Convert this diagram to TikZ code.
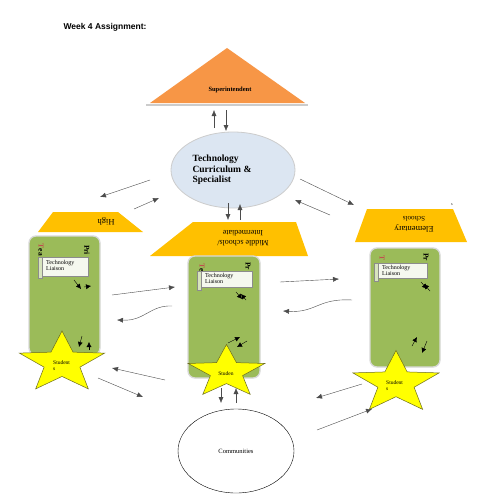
\documentclass[tikz,border=0pt]{standalone}
\usepackage{fontspec}
\setmainfont{Liberation Serif}
\newfontfamily\headfont{Liberation Sans}
\usetikzlibrary{shapes,arrows.meta}
\definecolor{supor}{HTML}{F79646}
\definecolor{lvlgold}{HTML}{FFC000}
\definecolor{boxgreen}{HTML}{9BBB59}
\definecolor{ovalblue}{HTML}{DCE6F2}
\definecolor{starfill}{HTML}{FFFF00}
\definecolor{starline}{HTML}{6B6B1E}
\definecolor{teared}{HTML}{C0504D}

\tikzset{
  flow/.style={-{Latex[length=6pt,width=5pt]}, thin, black!70},
  tiny/.style={-{Latex[length=5pt,width=5pt]}, thin},
  level/.style={fill=lvlgold, draw=none},
  school/.style={fill=boxgreen, draw=black!15, line width=1.3pt, rounded corners=7pt},
  liaison/.style={fill=white!90!boxgreen, draw=black!45, line width=0.3pt},
  rollend/.style={fill=white!60!boxgreen, draw=black!45, line width=0.3pt},
  student/.style={fill=starfill, draw=starline, line width=0.5pt},
  side/.style={font=\bfseries\fontsize{7.5}{8}\selectfont, rotate=-90, inner sep=0pt}
}

\newcommand{\studentstar}[4]{%
  \begin{scope}[shift={(#1,#2)}, xscale=#4]
    \draw[student] (-90:#3) -- (-54:{0.42*#3}) -- (-18:#3) -- (18:{0.42*#3}) -- (54:#3)
      -- (90:{0.42*#3}) -- (126:#3) -- (162:{0.42*#3}) -- (198:#3) -- (234:{0.42*#3}) -- cycle;
  \end{scope}}

\begin{document}
\begin{tikzpicture}[x=1pt, y=-1pt]
        \useasboundingbox[fill=white] (0,0) rectangle (495,495);
        \node[font=\headfont\bfseries\fontsize{8.5}{10}\selectfont] (title) at (105,27) {Week 4 Assignment:};

        \fill[supor] (227,48) -- (305,103) -- (150,103) -- cycle;
        \draw[black!20, line width=1.3pt] (146,105) -- (308,105);
        \node[font=\bfseries\fontsize{6.5}{7}\selectfont] (supt) at (230,90) {Superintendent};
        \draw[flow] (214,128) -- (214,110);
        \draw[flow] (226,110) -- (226,131);

        \node[ellipse, fill=ovalblue, draw=black!20, line width=0.8pt, minimum width=124, minimum height=76] (tcs) at (233,170) {};
        \node[align=left, font=\bfseries\fontsize{9.5}{10.5}\selectfont] (tcstext) at (222,170) {Technology\\Curriculum \&\\Specialist};
        \draw[flow] (228,203) -- (228,220);
        \draw[flow] (240,220) -- (240,204);

        \draw[flow] (150,180) -- (100,197);
        \draw[flow] (134,209) -- (159,198);
        \draw[flow] (300,179) -- (354,205);
        \draw[flow] (330,215) -- (295,200);

        \fill[level] (53,212) -- (118,212) -- (143,232) -- (38,232) -- cycle;
        \node[rotate=180, font=\fontsize{8.5}{9}\selectfont] (high) at (106,222) {High};
        \fill[level] (193,222) -- (296,222) -- (308,256) -- (150,256) -- cycle;
        \node[rotate=180, align=center, font=\fontsize{8}{10}\selectfont] (middle) at (243,238) {Middle schools/\\Intermediate};
        \fill[level] (367,209) -- (453,209) -- (467,242) -- (355,242) -- cycle;
        \node[rotate=180, align=center, font=\fontsize{8.5}{10}\selectfont] (elem) at (414,224) {Elementary\\{\fontsize{7}{8}\selectfont Schools}};
        \node[font=\fontsize{4}{5}\selectfont] (elems) at (452,205) {s};

        \draw[school] (29,236) rectangle (100,355);
        \draw[school] (188,256) rectangle (260,378);
        \draw[school] (370,248) rectangle (440,367);

        \node[side] (tea1) at (41,250) {\textcolor{teared}{T}ea};
        \node[side] (pri1) at (87,250) {Pri};
        \node[side] (tea2) at (202,268) {\textcolor{teared}{T}e};
        \node[side] (pri2) at (248,266) {Pr};
        \node[side] (tea3) at (382,258) {\textcolor{teared}{T}};
        \node[side] (pri3) at (426,257) {Pr};

        \draw[liaison] (38,257) rectangle (88,276);
        \draw[rollend] (38,257) rectangle (42,278);
        \node[align=left, font=\fontsize{6}{6.5}\selectfont, anchor=north west, inner sep=0pt] (liaison1) at (46,260) {Technology\\Liaison};
        \draw[liaison] (197,271) rectangle (252,287);
        \draw[rollend] (197,271) rectangle (201,290);
        \node[align=left, font=\fontsize{6}{6.5}\selectfont, anchor=north west, inner sep=0pt] (liaison2) at (205,273) {Technology\\Liaison};
        \draw[liaison] (374,263) rectangle (427,278);
        \draw[rollend] (374,263) rectangle (378,281);
        \node[align=left, font=\fontsize{6}{6.5}\selectfont, anchor=north west, inner sep=0pt] (liaison3) at (382,265) {Technology\\Liaison};

        \draw[tiny] (74,280) -- (81,289);
        \draw[tiny] (84,287) -- (91,286);
        \draw[tiny] (236,292) -- (242,299);
        \draw[tiny] (246,300) -- (241,294);
        \draw[tiny] (421,282) -- (427,289);
        \draw[tiny] (430,291) -- (424,284);
        \draw[tiny] (82,336) -- (79,347);
        \draw[tiny] (89,350) -- (89,342);
        \draw[tiny] (412,346) -- (417,337);
        \draw[tiny] (427,341) -- (422,353);

        \draw[flow] (112,295) -- (175,287);
        \draw[flow] (172,306) .. controls (150,305) and (145,321) .. (117,320);
        \draw[flow] (280,282) -- (339,279);
        \draw[flow] (352,300) .. controls (318,298) and (316,313) .. (283,311);

        \studentstar{62}{363}{32}{1.4}
        \studentstar{226.5}{372}{27.6}{1.46}
        \studentstar{396}{383}{32.6}{1.39}
        \node[align=left, font=\fontsize{5.5}{6}\selectfont, anchor=north west, inner sep=0pt] (stud1) at (53,360) {Student\\s};
        \node[font=\fontsize{5.5}{6}\selectfont, inner sep=0pt] (stud2) at (226,374) {Studen};
        \node[align=left, font=\fontsize{5.5}{6}\selectfont, anchor=north west, inner sep=0pt] (stud3) at (386,380) {Student\\s};

        \draw[tiny] (228,343) -- (240,337);
        \draw[tiny] (247,341) -- (237,347);
        \draw[flow] (221,388) -- (221,403);
        \draw[flow] (236,403) -- (236,388);

        \draw[flow] (165,380) -- (112,368);
        \draw[flow] (98,378) -- (143,397);
        \draw[flow] (362,384) -- (316,398);
        \draw[flow] (317,430) -- (372,409);

        \node[ellipse, draw, thin, fill=white, minimum width=116, minimum height=84, font=\fontsize{6.5}{7}\selectfont] (comm) at (236,451) {Communities};
\end{tikzpicture}
\end{document}
